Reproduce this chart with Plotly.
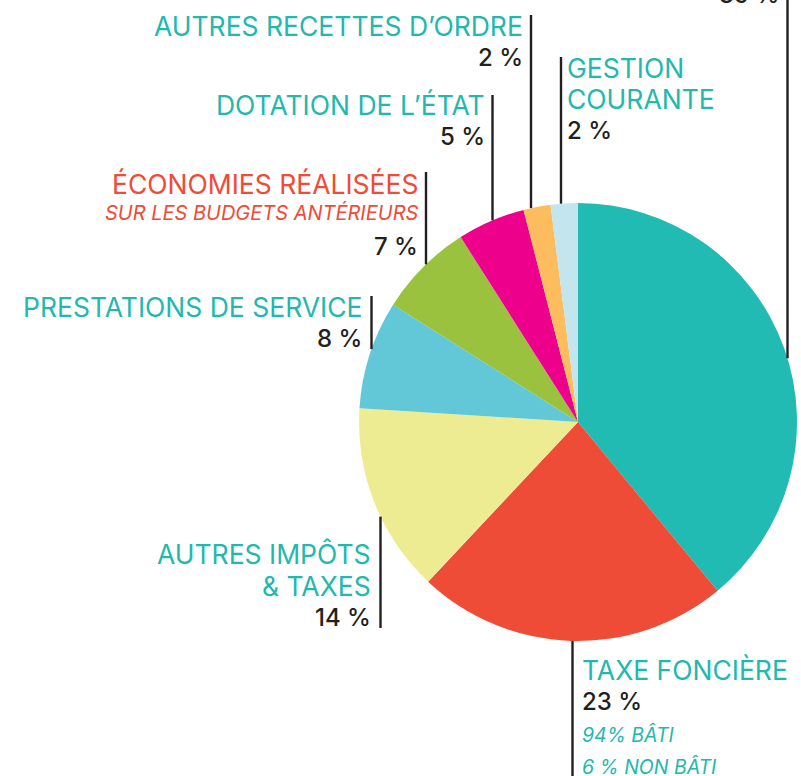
import math
import plotly.graph_objects as go

# ---- data (clockwise from 12 o'clock) ----
categories = ["FISCALITÉ", "TAXE FONCIÈRE", "AUTRES IMPÔTS & TAXES", "PRESTATIONS DE SERVICE",
              "ÉCONOMIES RÉALISÉES", "DOTATION DE L’ÉTAT", "AUTRES RECETTES D’ORDRE",
              "GESTION COURANTE"]
values = [39, 23, 14, 8, 7, 5, 2, 2]
slice_colors = ["#22BBB3", "#EF4C37", "#EEEC93", "#62C8D7", "#9AC23F", "#EC008C", "#FDBD5F", "#C2E5EE"]
name_lines = [
    [],
    ["TAXE FONCIÈRE"],
    ["AUTRES IMPÔTS", "& TAXES"],
    ["PRESTATIONS DE SERVICE"],
    ["ÉCONOMIES RÉALISÉES"],
    ["DOTATION DE L’ÉTAT"],
    ["AUTRES RECETTES D’ORDRE"],
    ["GESTION", "COURANTE"],
]
sub_lines = {1: ["94% BÂTI", "6 % NON BÂTI"], 4: ["SUR LES BUDGETS ANTÉRIEURS"]}
name_colors = ["#22B8AD", "#22B8AD", "#22B8AD", "#22B8AD", "#EF4B36", "#22B8AD", "#22B8AD", "#22B8AD"]

# ---- layout constants (pixels, in window coordinates) ----
W, H = 801, 776
OFF = 0  # body margin removed via post_script
CX, CY, R = 578, 422, 219
FONT = "Inter"
DARK = "#231F20"
LINE_GAP = 31.5
NAME_SIZE = 26.5
PCT_SIZE = 24
SUB_SIZE = 20

def px(x):
    return (x - OFF) / W

def py(y):
    return 1 - (y - OFF) / H

fig = go.Figure(go.Pie(
    values=values,
    labels=categories,
    marker=dict(colors=slice_colors, line=dict(width=0)),
    sort=False,
    direction="clockwise",
    rotation=0,
    textinfo="none",
    hoverinfo="label+percent",
    domain=dict(x=[px(CX - R), px(CX + R)], y=[py(CY + R), py(CY - R)]),
    showlegend=False,
))

annotations = []
shapes = []

def add_text(text, x, ycenter, anchor, color, size=NAME_SIZE, italic=False, weight=400):
    annotations.append(dict(
        text=text, x=px(x), y=py(ycenter), xref="paper", yref="paper",
        xanchor=anchor, yanchor="middle", showarrow=False, align=anchor,
        borderpad=0, borderwidth=0,
        font=dict(family=FONT, size=size, color=color, weight=weight,
                  style="italic" if italic else "normal"),
    ))

def edge_y(x, upper=True):
    d = math.sqrt(max(R * R - (x - CX) ** 2, 0))
    return CY - d if upper else CY + d

def add_line(x, y_other, upper=True):
    ye = edge_y(x, upper)
    shapes.append(dict(type="line", xref="paper", yref="paper",
                       x0=px(x), x1=px(x), y0=py(y_other), y1=py(ye),
                       line=dict(color=DARK, width=2.4)))

# (line x, text x, anchor, first cap-center y, line far end y, upper side)
placement = {
    0: (787.5, 779, "right", -5.5 - LINE_GAP, -5, True),
    1: (572.5, 582, "left", 670.4, 790, False),
    2: (380.5, 371, "right", 554, 628, False),
    3: (371.5, 362, "right", 307, 296, True),
    4: (426.0, 418, "right", 184.3, 172, True),
    5: (492.5, 485, "right", 104.8, 95, True),
    6: (531.0, 523, "right", 25.8, 15, True),
    7: (561.0, 567, "left", 67.5, 57, True),
}

for i, (lx, tx, anc, y0, yl, upper) in placement.items():
    y = y0
    for ln in name_lines[i]:
        add_text(ln, tx, y, anc, name_colors[i])
        y += LINE_GAP
    if i == 4:
        add_text(sub_lines[4][0], tx, y - 2.5, anc, name_colors[i], size=SUB_SIZE, italic=True)
        y += LINE_GAP - 0.5
    if i == 0:
        y = -5.5
    add_text(f"{values[i]} %", tx, y, anc, DARK, size=PCT_SIZE, weight=500)
    y += LINE_GAP
    if i == 1:
        for s in sub_lines[1]:
            add_text(s, tx, y + 2, anc, name_colors[i], size=SUB_SIZE - 0.5, italic=True)
            y += LINE_GAP
    add_line(lx, yl, upper)

fig.update_layout(
    width=W, height=H,
    margin=dict(l=0, r=0, t=0, b=0),
    paper_bgcolor="white", plot_bgcolor="white",
    annotations=annotations, shapes=shapes,
)

fig.write_html("out.html", config={"displayModeBar": False},
               post_script="document.body.style.margin='0';")
